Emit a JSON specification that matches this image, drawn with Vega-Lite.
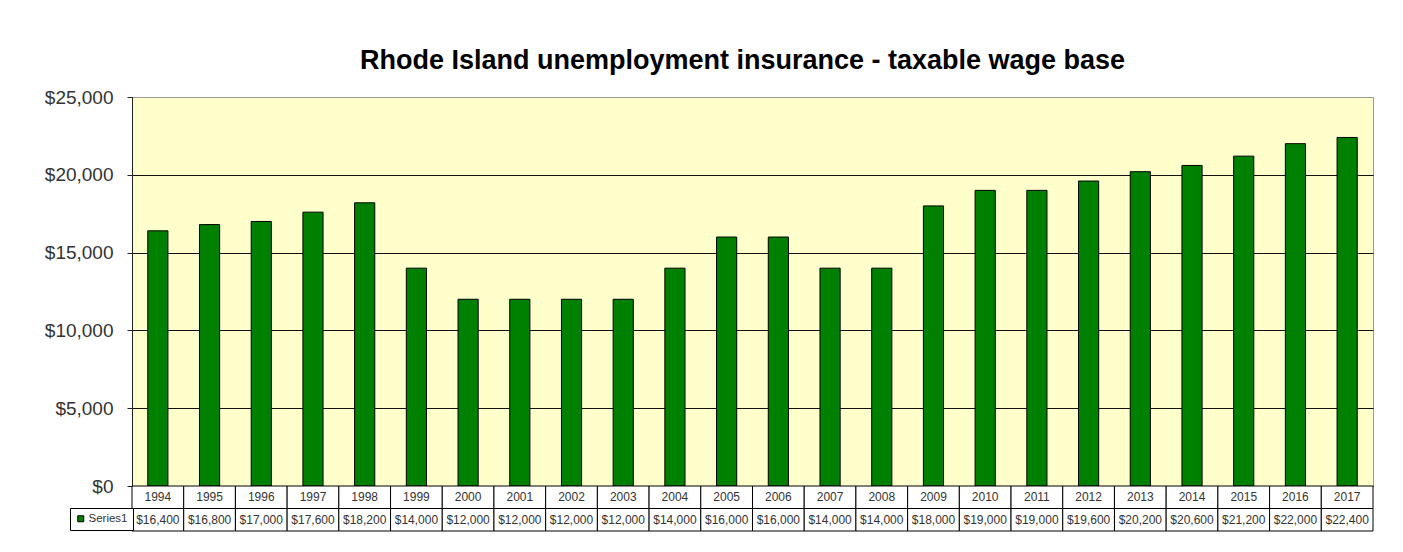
{
  "$schema": "https://vega.github.io/schema/vega-lite/v6.json",
  "background": "white",
  "padding": {"left": 43, "top": 46, "right": 0, "bottom": 0},
  "spacing": 0,
  "bounds": "flush",
  "config": {
    "font": "Liberation Sans"
  },
  "datasets": {
    "wage": [
      {"year": "1994", "value": 16400},
      {"year": "1995", "value": 16800},
      {"year": "1996", "value": 17000},
      {"year": "1997", "value": 17600},
      {"year": "1998", "value": 18200},
      {"year": "1999", "value": 14000},
      {"year": "2000", "value": 12000},
      {"year": "2001", "value": 12000},
      {"year": "2002", "value": 12000},
      {"year": "2003", "value": 12000},
      {"year": "2004", "value": 14000},
      {"year": "2005", "value": 16000},
      {"year": "2006", "value": 16000},
      {"year": "2007", "value": 14000},
      {"year": "2008", "value": 14000},
      {"year": "2009", "value": 18000},
      {"year": "2010", "value": 19000},
      {"year": "2011", "value": 19000},
      {"year": "2012", "value": 19600},
      {"year": "2013", "value": 20200},
      {"year": "2014", "value": 20600},
      {"year": "2015", "value": 21200},
      {"year": "2016", "value": 22000},
      {"year": "2017", "value": 22400}
    ]
  },
  "vconcat": [
    {
      "width": 1241,
      "height": 389,
      "view": {"fill": "#FFFFCC", "stroke": "#9a9a9a", "strokeWidth": 1},
      "title": {
        "text": "Rhode Island unemployment insurance - taxable wage base",
        "frame": "group",
        "anchor": "middle",
        "font": "Liberation Sans",
        "fontSize": 27,
        "fontWeight": "bold",
        "color": "black",
        "baseline": "alphabetic",
        "offset": -8,
        "dx": -10
      },
      "data": {"name": "wage"},
      "mark": {"type": "bar", "stroke": "black", "strokeWidth": 1, "opacity": 1},
      "encoding": {
        "x": {
          "field": "year",
          "type": "ordinal",
          "scale": {"paddingInner": 0.61, "paddingOuter": 0.305},
          "axis": null
        },
        "y": {
          "field": "value",
          "type": "quantitative",
          "scale": {"domain": [0, 25000], "nice": false},
          "axis": {
            "title": null,
            "values": [0, 5000, 10000, 15000, 20000, 25000],
            "format": "$,.0f",
            "labelFont": "Liberation Sans",
            "labelFontSize": 19,
            "labelColor": "#333333",
            "labelPadding": 14,
            "tickSize": 5,
            "tickColor": "#222222",
            "domainColor": "#222222",
            "grid": true,
            "gridColor": {"condition": {"test": "datum.value == 25000", "value": "#9a9a9a"}, "value": "#111111"},
            "gridOpacity": 1
          }
        },
        "color": {
          "datum": "Series1",
          "type": "nominal",
          "scale": {"range": ["#008000"]},
          "legend": {
            "orient": "none",
            "legendX": -62,
            "legendY": 411,
            "title": null,
            "symbolType": "square",
            "symbolSize": 36,
            "symbolFillColor": "#008000",
            "symbolStrokeColor": "black",
            "symbolStrokeWidth": 1,
            "symbolOpacity": 1,
            "labelFont": "Liberation Sans",
            "labelFontSize": 11.5,
            "labelColor": "#333333",
            "labelOffset": 2,
            "padding": 5,
            "strokeColor": "black",
            "fillColor": "white",
            "cornerRadius": 0
          }
        }
      }
    },
    {
      "width": 1241,
      "height": 45,
      "view": {"stroke": null},
      "data": {"name": "wage"},
      "transform": [
        {"calculate": "datum.year", "as": "yearLabel"},
        {"calculate": "'$' + format(datum.value, ',')", "as": "valueLabel"},
        {"fold": ["yearLabel", "valueLabel"], "as": ["row", "cell"]}
      ],
      "encoding": {
        "x": {"field": "year", "type": "ordinal", "scale": {"paddingInner": 0, "paddingOuter": 0}, "axis": null},
        "y": {
          "field": "row",
          "type": "nominal",
          "scale": {"domain": ["yearLabel", "valueLabel"], "paddingInner": 0, "paddingOuter": 0},
          "axis": null
        }
      },
      "layer": [
        {"mark": {"type": "rect", "fill": "white", "stroke": "black", "strokeWidth": 1}},
        {"mark": {"type": "text", "fontSize": 12, "color": "#333333"}, "encoding": {"text": {"field": "cell"}}}
      ]
    }
  ]
}
